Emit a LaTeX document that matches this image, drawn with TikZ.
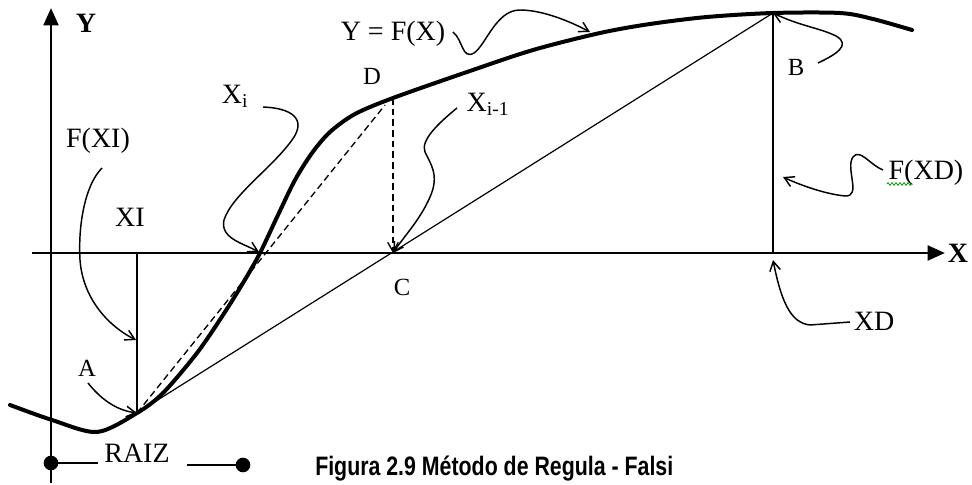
\documentclass[tikz,border=0pt]{standalone}
\usepackage{fontspec}
\setmainfont{Liberation Serif}
\newfontfamily\capfont[FakeStretch=0.8]{Liberation Sans}
\usetikzlibrary{arrows.meta,decorations.pathmorphing}
\begin{document}
\begin{tikzpicture}[x=0.75pt,y=-0.75pt,
  axis/.style={line width=2.2pt,-{Triangle[length=13pt,width=11pt]}},
  fcurve/.style={line width=3pt,line cap=round},
  thin/.style={line width=0.9pt},
  chord/.style={line width=1pt,dashed,dash pattern=on 5pt off 3pt},
  curly/.style={line width=1.1pt,-{Straight Barb[length=7pt,width=8pt,line width=1.1pt]}},
  lab/.style={inner sep=0pt,font=\fontsize{21}{24}\selectfont},
  pt/.style={inner sep=0pt,font=\fontsize{18.5}{21}\selectfont},
  axlab/.style={inner sep=0pt,font=\bfseries\fontsize{21}{24}\selectfont}]
\useasboundingbox (0,0) rectangle (972,485);
% key points
\coordinate (A) at (137,413);
\coordinate (B) at (773,13);
\coordinate (C) at (393,253);
\coordinate (D) at (393,98);
\coordinate (R) at (259,252);
\coordinate (XIax) at (137,253);
\coordinate (XDax) at (773,253);
\coordinate (Dch) at (385,105);
\coordinate (Ybot) at (51,483);
\coordinate (Ytop) at (51,8);
\coordinate (Xl) at (32,253);
\coordinate (Xr) at (945,253);
% axes
\draw[axis] (Ybot) -- (Ytop);
\draw[axis] (Xl) -- (Xr);
% straight lines
\draw[thin] (XIax) -- (A);
\draw[thin] (A) -- (B);
\draw[thin] (B) -- (XDax);
\draw[chord] (A) -- (Dch);
\draw[chord,-{Straight Barb[length=7pt,width=8pt,line width=1pt]}] (D) -- (C);
% function curve
\draw[fcurve] plot[smooth,tension=0.5] coordinates {
 (10,405) (52,420) (97,432) (137,413) (163,393) (197,353) (223,315)
 (243,283) (260,253) (278,215) (295,180) (312,153) (330,132) (355,114)
 (393,98) (467,72) (533,50) (600,33) (650,24) (707,17) (773,13)
 (840,13) (873,19) (912,30)};
% labels
\node[axlab] (Ylab) at (86,23) {Y};
\node[axlab] (Xlab) at (958,253) {X};
\node[lab] (FXI) at (98,141) {F(XI)};
\node[lab] (XI) at (130,217) {XI};
\node[lab] (Xi) at (235,96) {X\textsubscript{i}};
\node[lab] (YF) at (393,34) {Y = F(X)};
\node[pt] (Dlab) at (372,76) {D};
\node[lab] (Xim) at (488,104) {X\textsubscript{i-1}};
\node[pt] (Blab) at (796,67) {B};
\node[lab] (FXD) at (926,173) {F(XD)};
\node[pt] (Clab) at (402,287) {C};
\node[lab] (XDlab) at (874,321) {XD};
\node[pt] (Alab) at (87,368) {A};
\node[lab] (RAIZ) at (137,453) {RAIZ};
\node[inner sep=0pt,anchor=west,font=\capfont\bfseries\fontsize{20}{24}\selectfont] (cap) at (315,469) {Figura 2.9 Método de Regula - Falsi};
% spelling mark under F
\draw[green!60!black,line width=0.6pt,decorate,decoration={zigzag,segment length=3pt,amplitude=1pt}] (887,184) -- (912,184);
% curly arrows
\coordinate (s1) at (102,168);
\draw[curly] (s1) .. controls (85,185) and (78,225) .. (80,260) .. controls (83,300) and (110,327) .. (136,340);
\coordinate (s2) at (88,383);
\draw[curly] (s2) .. controls (100,398) and (115,410) .. (A);
\coordinate (s3) at (263,107);
\draw[curly] (s3) .. controls (290,108) and (308,118) .. (292,140) .. controls (272,168) and (232,195) .. (224,220) .. controls (220,238) and (242,243) .. (R);
\coordinate (s4) at (457,108);
\draw[curly] (s4) .. controls (440,122) and (420,140) .. (425,152) .. controls (430,163) and (440,175) .. (430,197) .. controls (420,220) and (405,235) .. (C);
\coordinate (s5) at (453,32);
\coordinate (t5) at (590,32);
\draw[curly] (s5) .. controls (463,40) and (462,60) .. (474,53) .. controls (486,45) and (496,10) .. (520,10) .. controls (545,10) and (575,24) .. (t5);
\coordinate (s6) at (818,63);
\draw[curly] (s6) .. controls (835,55) and (852,45) .. (836,36) .. controls (820,28) and (800,26) .. (B);
\coordinate (s7) at (883,170);
\coordinate (t7) at (783,177);
\draw[curly] (s7) .. controls (870,165) and (860,148) .. (853,157) .. controls (845,168) and (862,197) .. (845,196) .. controls (825,194) and (800,185) .. (t7);
\coordinate (s8) at (850,322);
\coordinate (t8) at (773,260);
\draw[curly] (s8) -- (810,325) .. controls (790,323) and (781,300) .. (t8);
% RAIZ marker
\coordinate (d1) at (51,463);
\coordinate (d2) at (243,465);
\coordinate (l1) at (98,463);
\coordinate (l2) at (187,465);
\fill (d1) circle[radius=5.5pt];
\fill (d2) circle[radius=5.5pt];
\draw[thin] (d1) -- (l1);
\draw[thin] (l2) -- (d2);
\end{tikzpicture}
\end{document}
